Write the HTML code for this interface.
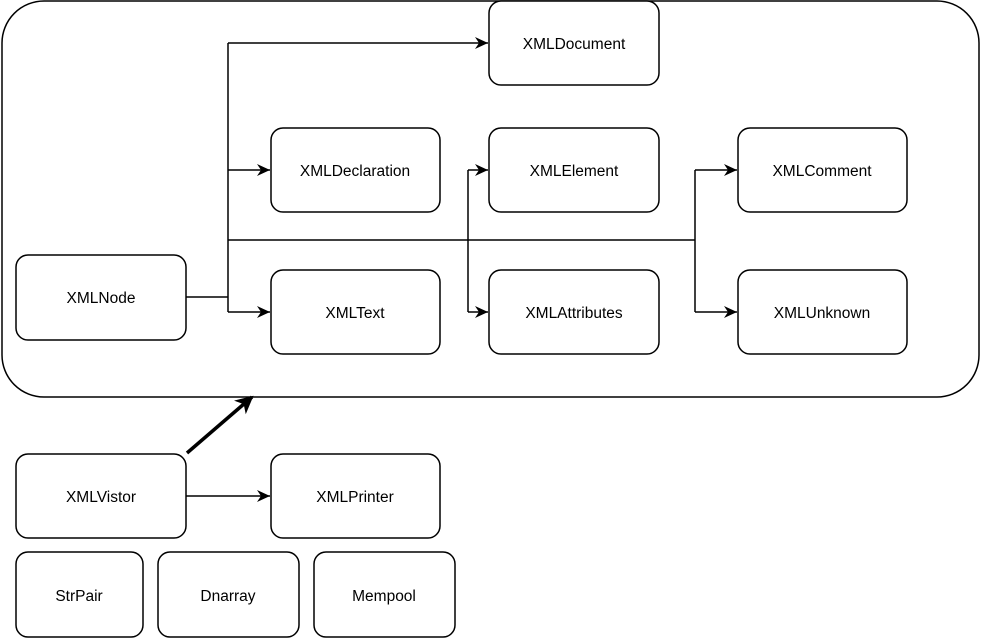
<!DOCTYPE html>
<html><head><style>body{margin:0;background:#fff}</style></head><body>
<svg width="981" height="639" xmlns="http://www.w3.org/2000/svg" font-family="Liberation Sans, Arial, sans-serif" font-size="15.5">
<defs><marker id="a" markerWidth="14" markerHeight="12" refX="13" refY="6" orient="auto" markerUnits="userSpaceOnUse"><path d="M0,0 L13,6 L0,12 L4,6 z" fill="#000"/></marker>
<marker id="b" markerWidth="18" markerHeight="18" refX="16" refY="9" orient="auto" markerUnits="userSpaceOnUse"><path d="M0,0 L18,9 L0,18 L5,9 z" fill="#000"/></marker></defs>
<rect x="2" y="1" width="977" height="396" rx="42" fill="#fff" stroke="#000" stroke-width="1.5"/>
<g fill="none" stroke="#000" stroke-width="1.5">
<path d="M186,297 H228"/>
<path d="M228,43 V312"/>
<path d="M228,43 H488" marker-end="url(#a)"/>
<path d="M228,170 H270" marker-end="url(#a)"/>
<path d="M228,312 H270" marker-end="url(#a)"/>
<path d="M228,240 H695"/>
<path d="M468,170 V312"/>
<path d="M468,170 H488" marker-end="url(#a)"/>
<path d="M468,312 H488" marker-end="url(#a)"/>
<path d="M695,170 V312"/>
<path d="M695,170 H737" marker-end="url(#a)"/>
<path d="M695,312 H737" marker-end="url(#a)"/>
<path d="M186,496 H270" marker-end="url(#a)"/>
<path d="M187,453 L252,397" stroke-width="3.5" marker-end="url(#b)"/>
</g>
<g fill="#fff" stroke="#000" stroke-width="1.5">
<rect x="489" y="1" width="170" height="84" rx="12"/>
<rect x="271" y="128" width="169" height="84" rx="12"/>
<rect x="489" y="128" width="170" height="84" rx="12"/>
<rect x="738" y="128" width="169" height="84" rx="12"/>
<rect x="16" y="255" width="170" height="85" rx="12"/>
<rect x="271" y="270" width="169" height="84" rx="12"/>
<rect x="489" y="270" width="170" height="84" rx="12"/>
<rect x="738" y="270" width="169" height="84" rx="12"/>
<rect x="16" y="454" width="170" height="84" rx="12"/>
<rect x="271" y="454" width="169" height="84" rx="12"/>
<rect x="16" y="552" width="127" height="85" rx="12"/>
<rect x="158" y="552" width="141" height="85" rx="12"/>
<rect x="314" y="552" width="141" height="85" rx="12"/>
</g>
<g text-anchor="middle" fill="#000">
<text x="574" y="49">XMLDocument</text>
<text x="355" y="176">XMLDeclaration</text>
<text x="574" y="176">XMLElement</text>
<text x="822" y="176">XMLComment</text>
<text x="101" y="303">XMLNode</text>
<text x="355" y="318">XMLText</text>
<text x="574" y="318">XMLAttributes</text>
<text x="822" y="318">XMLUnknown</text>
<text x="101" y="502">XMLVistor</text>
<text x="355" y="502">XMLPrinter</text>
<text x="79" y="601">StrPair</text>
<text x="228" y="601">Dnarray</text>
<text x="384" y="601">Mempool</text>
</g>
</svg>
</body></html>
